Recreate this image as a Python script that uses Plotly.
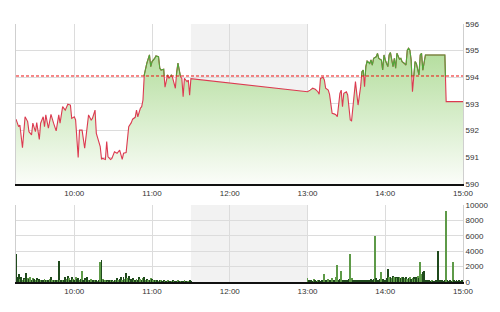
import pandas as pd
import plotly.graph_objects as go
from plotly.subplots import make_subplots

DAY = "2024-01-02 "
REF_PRICE = 594.05

price_times = [
    "09:15", "09:17", "09:18", "09:20", "09:22", "09:24", "09:25", "09:27", "09:28", "09:30",
    "09:31", "09:33", "09:34", "09:36", "09:37", "09:38", "09:40", "09:41", "09:42", "09:44",
    "09:46", "09:48", "09:49", "09:51", "09:53", "09:55", "09:57", "09:58", "10:00", "10:01",
    "10:03", "10:04", "10:06", "10:08", "10:10", "10:11", "10:13", "10:14", "10:16", "10:17",
    "10:20", "10:21", "10:22", "10:24", "10:25", "10:26", "10:28", "10:29", "10:31", "10:33",
    "10:35", "10:36", "10:37", "10:38", "10:40", "10:42", "10:44", "10:45", "10:47", "10:48",
    "10:49", "10:51", "10:52", "10:53", "10:54", "10:56", "10:58", "10:59", "11:00", "11:02",
    "11:03", "11:05", "11:06", "11:07", "11:09", "11:10", "11:12", "11:13", "11:15", "11:16",
    "11:18", "11:19", "11:20", "11:22", "11:23", "11:24", "11:25", "11:26", "11:27", "11:28",
    "11:29", "11:30",
    "13:00", "13:02", "13:04", "13:06", "13:08", "13:09", "13:10", "13:12", "13:13", "13:14",
    "13:16", "13:17", "13:18", "13:19", "13:21", "13:22", "13:23", "13:25", "13:26", "13:27",
    "13:28", "13:30", "13:31", "13:32", "13:33", "13:34", "13:36", "13:37", "13:38", "13:39",
    "13:41", "13:42", "13:43", "13:44", "13:45", "13:46", "13:48", "13:49", "13:50", "13:51",
    "13:53", "13:54", "13:55", "13:57", "13:58", "13:59", "14:00", "14:02", "14:03", "14:04",
    "14:06", "14:07", "14:08", "14:09", "14:11", "14:12", "14:13", "14:15", "14:16", "14:17",
    "14:18", "14:19", "14:20", "14:21", "14:23", "14:24", "14:26", "14:27", "14:28", "14:29",
    "14:31", "14:46", "14:47", "15:00",
]
prices = [
    592.43, 592.15, 592.21, 591.36, 592.52, 592.34, 591.96, 591.84, 592.28, 591.96,
    592.30, 591.67, 592.28, 592.52, 592.15, 592.59, 592.09, 592.34, 592.61, 592.28,
    591.99, 592.59, 592.28, 592.90, 592.77, 592.99, 592.96, 592.46, 592.52, 592.40,
    590.99, 592.02, 592.02, 591.34, 592.28, 592.59, 592.40, 592.46, 592.77, 591.90,
    591.40, 590.94, 590.96, 590.92, 591.59, 591.02, 590.92, 590.96, 591.21, 591.15,
    591.27, 591.05, 590.92, 591.15, 591.18, 592.15, 592.30, 592.43, 592.50, 592.77,
    592.52, 592.84, 592.90, 593.15, 594.09, 594.53, 594.84, 594.40, 594.59, 594.71,
    594.80, 594.77, 594.34, 594.27, 594.30, 593.63, 594.09, 593.96, 594.09, 593.96,
    593.59, 594.21, 594.53, 594.02, 593.96, 593.27, 593.96, 593.90, 593.84, 593.90,
    593.33, 593.95,
    593.46, 593.52, 593.59, 593.55, 593.46, 593.37, 593.96, 594.00, 593.90, 593.59,
    593.52, 593.36, 592.90, 592.65, 592.62, 592.59, 592.52, 593.40, 593.52, 592.90,
    593.40, 593.46, 593.34, 592.77, 592.40, 592.37, 593.40, 593.84, 593.40, 592.96,
    593.65, 594.21, 594.27, 593.65, 594.40, 594.61, 594.52, 594.65, 594.46, 594.71,
    594.77, 594.90, 594.71, 594.65, 594.28, 594.84, 594.65, 594.40, 594.84, 594.93,
    594.40, 594.71, 594.34, 594.90, 594.68, 594.71, 594.59, 594.52, 594.46, 595.02,
    595.09, 595.02, 594.65, 593.46, 594.59, 594.52, 594.09, 594.84, 594.90, 594.27,
    594.84, 594.84, 593.09, 593.09,
]

# per-minute volume, morning session from 09:15, afternoon from 13:00
vol_am = [
    3700, 700, 1000, 400, 600, 300, 500, 400, 1200, 500,
    400, 600, 300, 500, 400, 300, 500, 300, 400, 200,
    300, 200, 400, 300, 200, 300, 400, 600, 300, 200,
    300, 200, 300, 2700, 300, 200, 300, 200, 600, 400,
    800, 500, 300, 600, 400, 300, 700, 400, 500, 300,
    400, 1400, 300, 500, 300, 600, 300, 200, 400, 300,
    200, 300, 200, 100, 300, 2600, 2900, 400, 200, 300,
    200, 100, 200, 300, 200, 100, 300, 200, 500, 300,
    400, 600, 300, 700, 400, 1200, 500, 800, 300, 400,
    500, 300, 200, 400, 300, 600, 400, 300, 500, 600,
    300, 400, 200, 300, 500, 400, 200, 300, 200, 200,
    100, 200, 300, 100, 200, 100, 100, 200, 100, 100,
    100, 200, 100, 100, 100, 200, 100, 100, 100, 100,
    200, 100, 100, 100, 200, 100,
]
dark_am = [
    1, 1, 1, 0, 1, 0, 1, 0, 1, 0,
    1, 0, 1, 0, 1, 0, 1, 0, 1, 0,
    1, 1, 0, 1, 0, 1, 0, 1, 0, 1,
    0, 1, 0, 1, 0, 1, 0, 1, 1, 0,
    1, 0, 1, 1, 0, 1, 0, 1, 1, 0,
    1, 0, 1, 1, 0, 1, 0, 1, 0, 1,
    1, 0, 1, 0, 1, 0, 1, 0, 1, 0,
    1, 0, 1, 0, 1, 0, 1, 0, 1, 0,
    1, 1, 0, 1, 0, 1, 0, 1, 0, 1,
    1, 0, 1, 0, 1, 1, 0, 1, 0, 1,
    0, 1, 0, 1, 0, 1, 0, 1, 0, 1,
    0, 1, 0, 1, 1, 0, 1, 0, 1, 1,
    0, 1, 0, 1, 1, 0, 1, 0, 1, 1,
    0, 1, 1, 0, 1, 1,
]
vol_pm = [
    560, 200, 300, 200, 100, 400, 200, 100, 300, 200,
    100, 200, 300, 1000, 300, 200, 400, 300, 200, 500,
    300, 200, 700, 2200, 300, 400, 1400, 300, 200, 100,
    300, 200, 400, 3600, 500, 200, 300, 200, 300, 200,
    300, 200, 300, 200, 300, 200, 300, 200, 300, 400,
    300, 400, 5950, 500, 300, 200, 400, 1260, 400, 300,
    200, 500, 1650, 600, 700, 500, 800, 600, 700, 500,
    700, 600, 500, 700, 600, 500, 600, 400, 500, 600,
    400, 500, 600, 400, 700, 800, 500, 2560, 1100, 1300,
    1400, 300, 200, 100, 200, 100, 200, 100, 100, 200,
    100, 4000, 200, 100, 200, 100, 200, 9250, 200, 100,
    200, 100, 2560, 200, 100, 200, 100, 200, 100, 200,
    100,
]
dark_pm = [
    0, 1, 1, 1, 1, 0, 1, 1, 0, 1,
    1, 1, 1, 0, 1, 1, 0, 1, 1, 0,
    1, 1, 0, 0, 1, 1, 0, 1, 1, 1,
    1, 1, 1, 0, 0, 1, 1, 1, 1, 1,
    1, 1, 1, 1, 1, 1, 1, 1, 1, 1,
    1, 1, 0, 1, 1, 1, 1, 0, 1, 1,
    1, 1, 1, 0, 1, 0, 1, 0, 1, 0,
    1, 0, 1, 0, 1, 0, 1, 0, 1, 0,
    1, 0, 1, 0, 1, 0, 1, 0, 0, 1,
    1, 1, 1, 1, 1, 1, 0, 1, 1, 1,
    1, 1, 1, 1, 1, 1, 1, 0, 1, 1,
    1, 1, 0, 1, 1, 1, 1, 1, 1, 1,
    1,
]

x_ticks = ["10:00", "11:00", "12:00", "13:00", "14:00", "15:00"]
price_ticks = [590, 591, 592, 593, 594, 595, 596]
vol_ticks = [0, 2000, 4000, 6000, 8000, 10000]
lunch = ("11:30", "13:00")
session = ("09:15", "15:00")

# ---------- build ----------
t = pd.to_datetime([DAY + s for s in price_times])
tn = t.asi8

# green part of line above reference price
gx, gy = [], []
for i in range(len(prices)):
    if i > 0:
        a, b = prices[i - 1], prices[i]
        if (a - REF_PRICE) * (b - REF_PRICE) < 0:
            f = (REF_PRICE - a) / (b - a)
            tc = pd.Timestamp(int(tn[i - 1] + f * (tn[i] - tn[i - 1])))
            gx.append(tc.strftime("%Y-%m-%d %H:%M:%S.%f"))
            gy.append(REF_PRICE)
            if b < REF_PRICE:
                gx.append(None)
                gy.append(None)
    if prices[i] >= REF_PRICE:
        gx.append(t[i].strftime("%Y-%m-%d %H:%M:%S"))
        gy.append(prices[i])

ts = [x.strftime("%Y-%m-%d %H:%M:%S") for x in t]

am_t = pd.date_range(DAY + "09:15", periods=len(vol_am), freq="min")
pm_t = pd.date_range(DAY + "13:00", periods=len(vol_pm), freq="min")
vt = [x.strftime("%Y-%m-%d %H:%M:%S") for x in list(am_t) + list(pm_t)]
vv = vol_am + vol_pm
vd = (dark_am + [1] * len(vol_am))[:len(vol_am)] + (dark_pm + [1] * len(vol_pm))[:len(vol_pm)]
DARK, LIGHT = "#1f4a1c", "#5e9a48"
vcol = [DARK if d else LIGHT for d in vd]

fig = make_subplots(rows=2, cols=1, shared_xaxes=False, vertical_spacing=0.0)

fig.add_trace(go.Scatter(
    x=ts, y=prices, mode="lines", line=dict(width=0), fill="tozeroy",
    fillgradient=dict(type="vertical", start=590, stop=596,
                      colorscale=[[0, "#fbfdf9"], [1, "#a5d78a"]]),
    hoverinfo="skip"), row=1, col=1)
fig.add_trace(go.Scatter(x=ts, y=prices, mode="lines",
                         line=dict(color="#dc3a50", width=1.1), hoverinfo="skip"), row=1, col=1)
fig.add_trace(go.Scatter(x=gx, y=gy, mode="lines", connectgaps=False,
                         line=dict(color="#4fa83a", width=1.1), hoverinfo="skip"), row=1, col=1)

fig.add_trace(go.Bar(x=vt, y=vv, marker=dict(color=vcol, line=dict(width=0)),
                     width=40000, hoverinfo="skip"), row=2, col=1)

font = dict(family="Liberation Sans, Arial, sans-serif", size=8, color="#333333")
tickvals = [DAY + s for s in x_ticks]
xr = [DAY + session[0], DAY + session[1]]
for ax in ("xaxis", "xaxis2"):
    fig.layout[ax].update(
        range=xr, type="date", tickvals=tickvals, ticktext=x_ticks,
        showgrid=True, gridcolor="#dcdcdc", gridwidth=1,
        showline=True, linecolor="#111111", linewidth=2, ticks="",
        tickfont=font, zeroline=False, fixedrange=True)

fig.layout.yaxis.update(range=[590, 596], tickvals=price_ticks,
                        ticktext=[str(v) for v in price_ticks], side="right",
                        showgrid=True, gridcolor="#dcdcdc", gridwidth=1,
                        showline=True, mirror=True, linecolor="#cfcfcf", linewidth=1,
                        ticks="", tickfont=font, zeroline=False)
fig.layout.yaxis2.update(range=[0, 10000], tickvals=vol_ticks,
                         ticktext=[str(v) for v in vol_ticks], side="right",
                         showgrid=True, gridcolor="#dcdcdc", gridwidth=1,
                         showline=True, mirror=True, linecolor="#cfcfcf", linewidth=1,
                         ticks="", tickfont=font, zeroline=False)
fig.layout.yaxis.domain = [0.38, 1.0]
fig.layout.yaxis2.domain = [0.0, 0.2985]

shapes = []
for xr_ref, yr_ref in (("x", "y domain"), ("x2", "y2 domain")):
    shapes.append(dict(type="rect", xref=xr_ref, yref=yr_ref,
                       x0=DAY + lunch[0], x1=DAY + lunch[1], y0=0, y1=1,
                       fillcolor="#f2f2f2", line=dict(width=0), layer="below"))
shapes.append(dict(type="line", xref="x domain", yref="y", x0=0, x1=1,
                   y0=REF_PRICE, y1=REF_PRICE,
                   line=dict(color="#ee1111", width=1, dash="3px,2px")))

fig.update_layout(
    width=500, height=312,
    margin=dict(l=16, r=37, t=24, b=30),
    paper_bgcolor="white", plot_bgcolor="white",
    showlegend=False, bargap=0, shapes=shapes,
    font=font, hovermode=False,
)

fig.write_html("out.html", config={"displayModeBar": False})
